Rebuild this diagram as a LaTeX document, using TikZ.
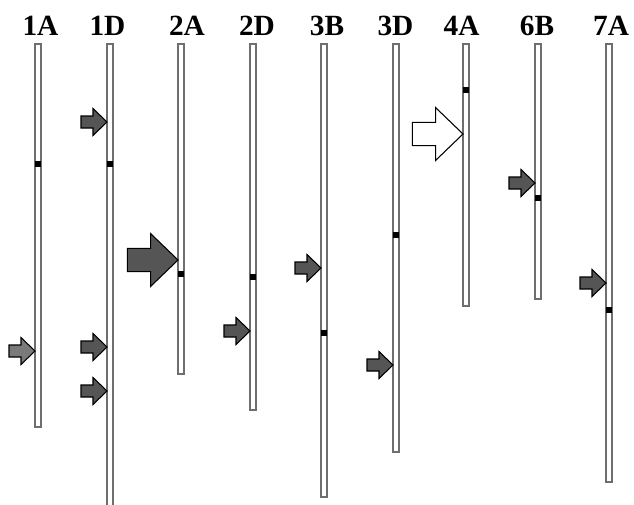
\documentclass[tikz,border=0pt]{standalone}
\usepackage{fontspec}
\setmainfont{Liberation Serif}
\definecolor{qtldark}{HTML}{555555}
\definecolor{qtllight}{HTML}{7A7A7A}
\definecolor{chromline}{HTML}{6E6E6E}
\tikzset{
  chrom/.style={draw=chromline, fill=white, line width=0.8pt},
  cen/.style={fill=black},
  qtl/.style={draw=black, line width=0.8pt, line join=miter},
  lab/.style={anchor=base, inner sep=0pt, font=\fontsize{22}{22}\selectfont\bfseries}
}
% chromosome: x, bottom, centromere
\newcommand{\chromo}[3]{%
  \draw[chrom] (#1-3,44) rectangle (#1+3,#2);
  \fill[cen] (#1-3,#3-3) rectangle (#1+3,#3+3);
}
% qtl arrow: tip x, tip y, size, fill
\newcommand{\qtlarrow}[4]{%
  \begin{scope}[shift={(#1,#2)}, scale=#3]
    \draw[qtl, fill=#4] (0,0) -- (-14,-13.5) -- (-14,-6) -- (-26,-6)
      -- (-26,6) -- (-14,6) -- (-14,13.5) -- cycle;
  \end{scope}
}

\begin{document}
\begin{tikzpicture}[x=0.75pt, y=-0.75pt]
\useasboundingbox (0,0) rectangle (634,504);

\node[lab] (l1A) at (40.5,35) {1A};
\node[lab] (l1D) at (107.5,35) {1D};
\node[lab] (l2A) at (187,35) {2A};
\node[lab] (l2D) at (257,35) {2D};
\node[lab] (l3B) at (327,35) {3B};
\node[lab] (l3D) at (395.5,35) {3D};
\node[lab] (l4A) at (461.5,35) {4A};
\node[lab] (l6B) at (537,35) {6B};
\node[lab] (l7A) at (611,35) {7A};

\chromo{38}{427}{164}
\chromo{110}{512}{164}
\chromo{181}{374}{274}
\chromo{253}{410}{277}
\chromo{324}{497}{333}
\chromo{396}{452}{235}
\chromo{466}{306}{90}
\chromo{538}{299}{198}
\chromo{609}{482}{310}

\qtlarrow{35}{351}{1}{qtllight}
\qtlarrow{107}{122}{1}{qtldark}
\qtlarrow{107}{347}{1}{qtldark}
\qtlarrow{107}{391}{1}{qtldark}
\qtlarrow{178}{260}{1.95}{qtldark}
\qtlarrow{250}{331}{1}{qtldark}
\qtlarrow{321}{268}{1}{qtldark}
\qtlarrow{393}{365}{1}{qtldark}
\qtlarrow{463}{134}{1.95}{white}
\qtlarrow{535}{183}{1}{qtldark}
\qtlarrow{606}{283}{1}{qtldark}
\end{tikzpicture}
\end{document}
